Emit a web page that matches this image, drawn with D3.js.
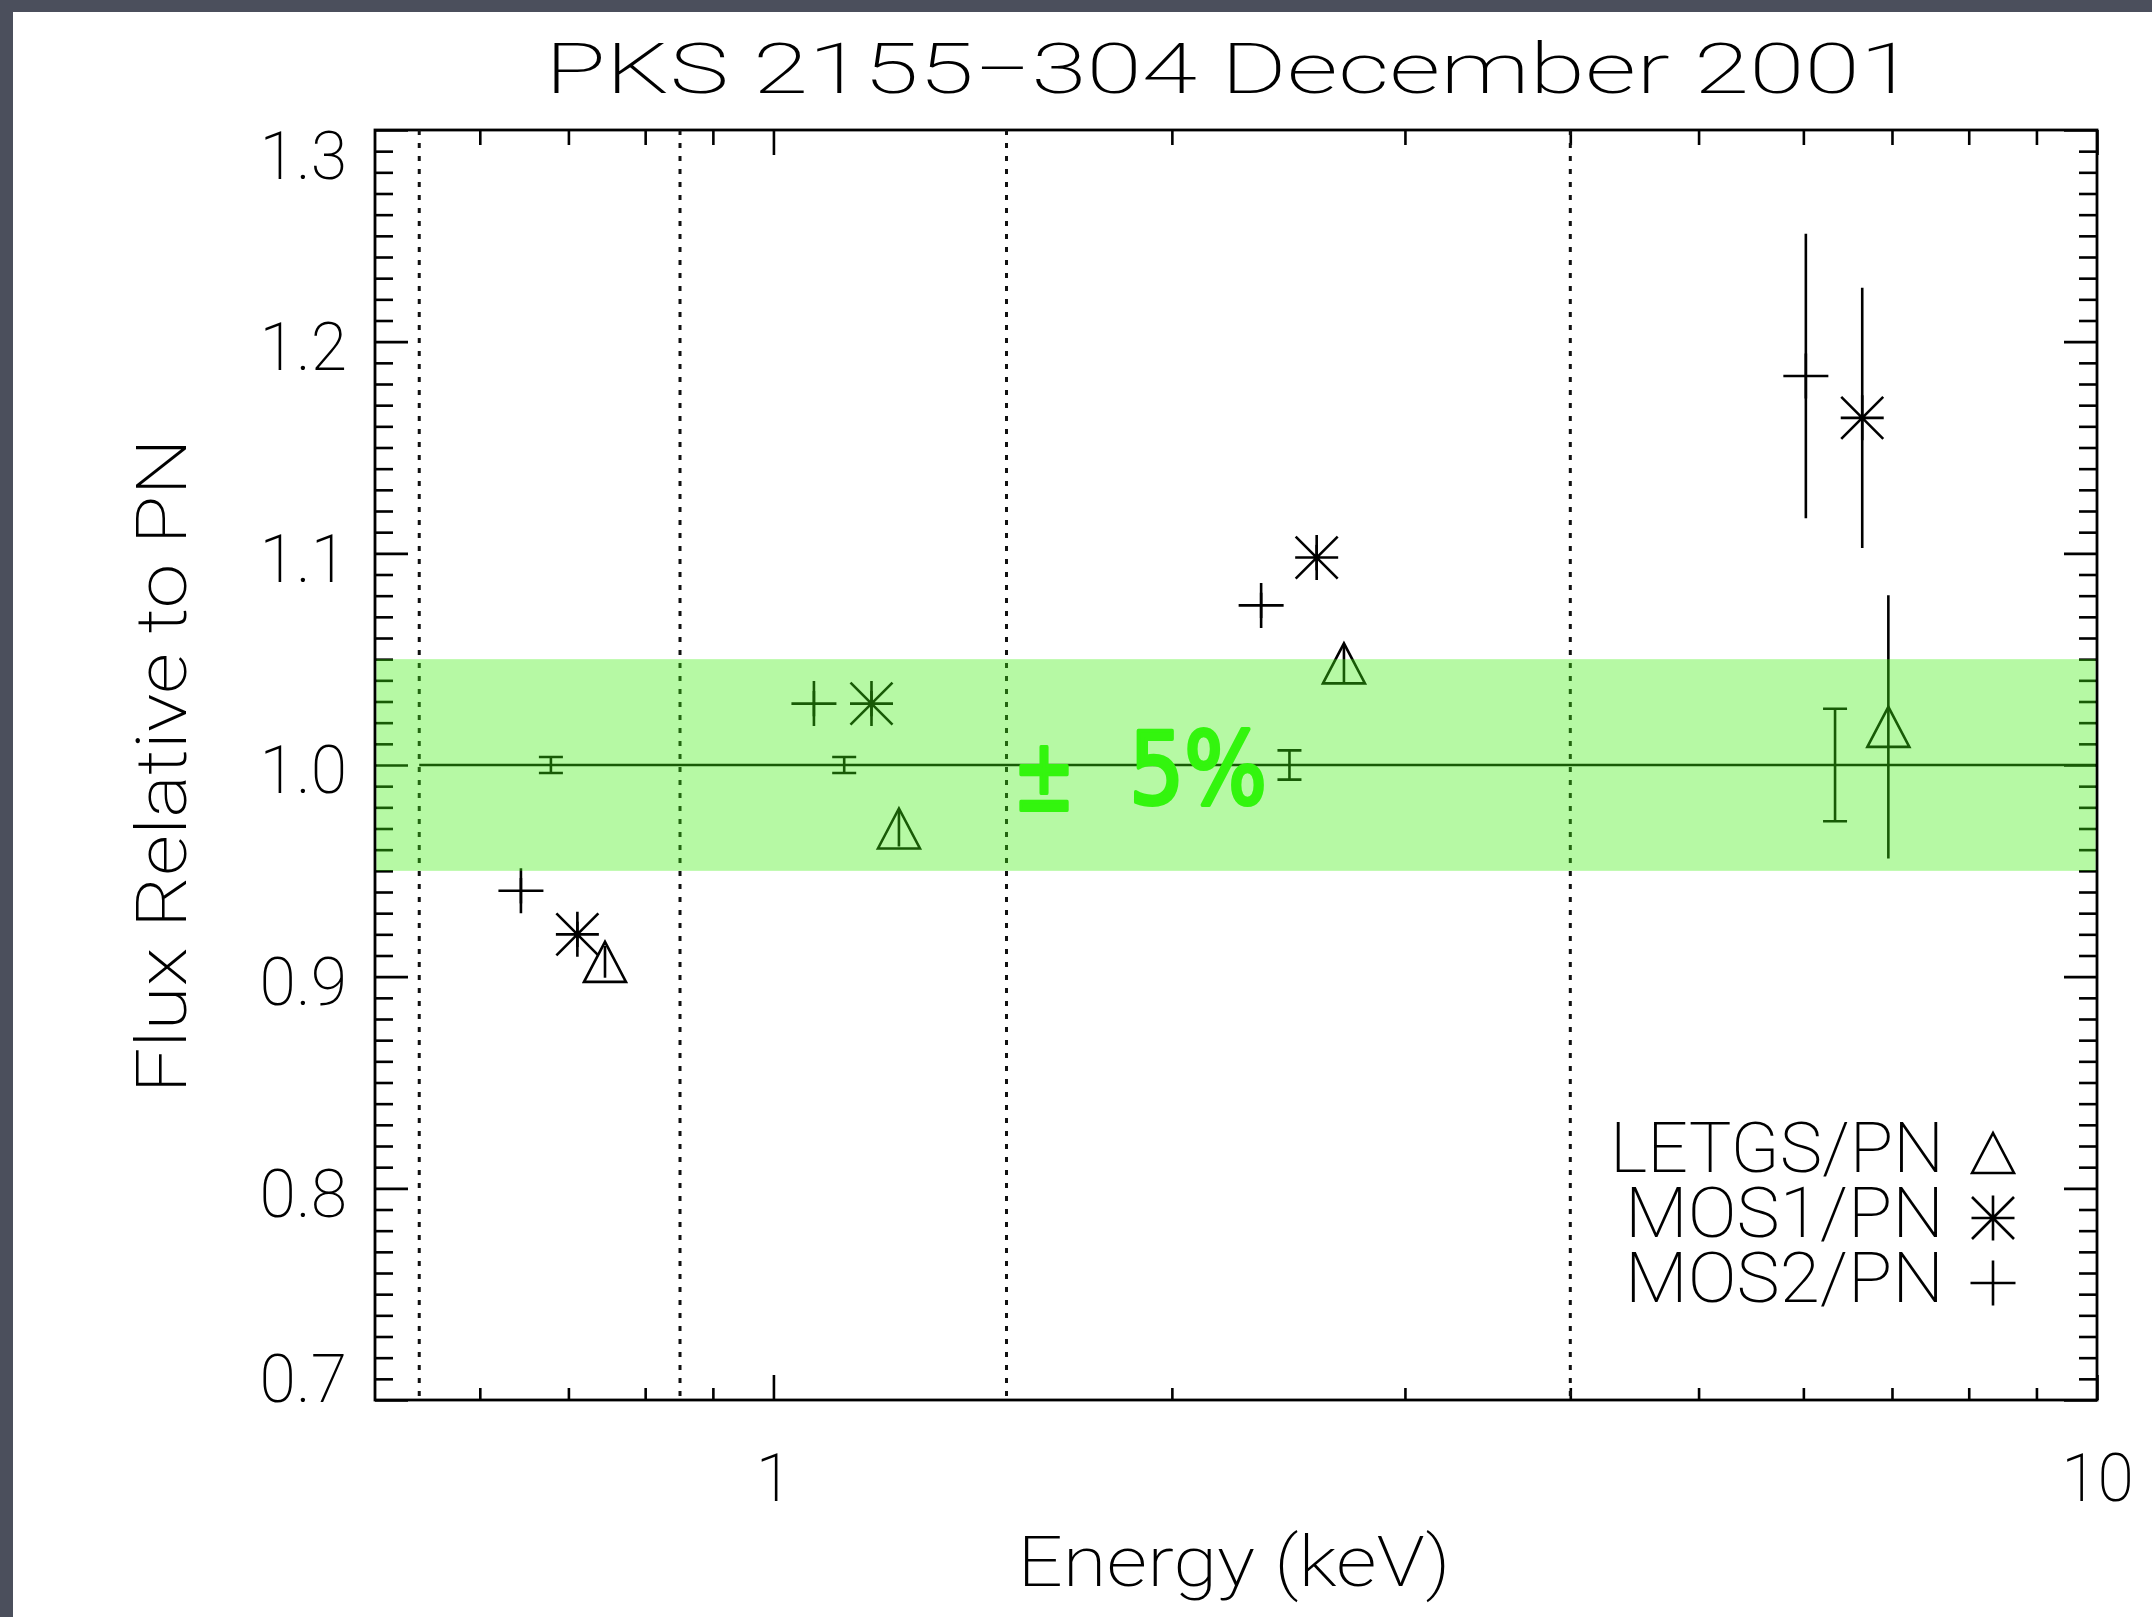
<!DOCTYPE html>
<html><head><meta charset="utf-8">
<script src="https://cdn.jsdelivr.net/npm/d3@7"></script>
<style>
html,body{margin:0;padding:0;background:#4b4f5c;}
svg{display:block;}
</style></head><body>
<svg id="chart" width="2152" height="1617"></svg>
<script>
// ---------- data ----------
const chartTitle = "PKS 2155\u2212304 December 2001";
const xAxisTitle = "Energy (keV)";
const yAxisTitle = "Flux Relative to PN";
const bandLabelSign = "\u00b1";
const bandLabelValue = "5%";

const bandEdges = [0.54, 0.85, 1.5, 4.0];          // dotted vertical lines (keV)
const xMajorTicks = [1, 10];
const xMajorLabels = ["1", "10"];
const xMinorTicks = [0.6, 0.7, 0.8, 0.9, 2, 3, 4, 5, 6, 7, 8, 9];
const yMajorTicks = [0.7, 0.8, 0.9, 1.0, 1.1, 1.2, 1.3];
const yMajorLabels = ["0.7", "0.8", "0.9", "1.0", "1.1", "1.2", "1.3"];
const toleranceBand = [0.95, 1.05];

const letgsEnergy = [0.746, 1.244, 2.698, 6.956];
const letgsRatio  = [0.907, 0.970, 1.048, 1.018];
const letgsError  = [0.0075, 0.0085, 0.0088, 0.0622];

const mos1Energy = [0.711, 1.186, 2.573, 6.647];
const mos1Ratio  = [0.920, 1.029, 1.098, 1.164];
const mos1Error  = [0.006, 0.006, 0.006, 0.0615];

const mos2Energy = [0.6445, 1.073, 2.336, 6.026];
const mos2Ratio  = [0.9406, 1.029, 1.0754, 1.1838];
const mos2Error  = [0.006, 0.006, 0.006, 0.0672];

const pnEnergy = [0.679, 1.131, 2.454, 6.34];
const pnRatio  = [1.0, 1.0, 1.0, 1.0];
const pnError  = [0.0038, 0.0038, 0.0069, 0.0266];

const legendLabels = ["LETGS/PN", "MOS1/PN", "MOS2/PN"];
const legendSymbols = ["triangle", "star", "plus"];

// ---------- layout ----------
const W = 2152, H = 1617;
const L = 375, R = 2097, T = 130, B = 1400;
const FONT = "Roboto, 'DejaVu Sans', sans-serif";
const FW = 200;

const svg = d3.select("#chart");
svg.append("rect").attr("x", 0).attr("y", 0).attr("width", W).attr("height", H).attr("fill", "#4b4f5c");
svg.append("rect").attr("x", 13).attr("y", 12).attr("width", W - 13).attr("height", H - 12).attr("fill", "#ffffff");

const x = d3.scaleLog().domain([0.5, 10]).range([L, R]);
const y = d3.scaleLinear().domain([0.7, 1.3]).range([B, T]);

const g = svg.append("g");

function styleAxis(sel) {
  sel.select(".domain").remove();
  sel.selectAll(".tick line").attr("stroke", "#000").attr("stroke-width", 2.6);
  sel.selectAll(".tick text").attr("fill", "#000").attr("font-family", FONT)
     .attr("font-weight", FW);
}

// x axes
const xb1 = g.append("g").attr("transform", `translate(0,${B})`)
  .call(d3.axisBottom(x).tickValues(xMajorTicks).tickFormat((d, i) => xMajorLabels[i])
        .tickSizeInner(-25).tickSizeOuter(0).tickPadding(54));
styleAxis(xb1);
xb1.selectAll(".tick text").attr("font-size", 66);
const xb2 = g.append("g").attr("transform", `translate(0,${B})`)
  .call(d3.axisBottom(x).tickValues(xMinorTicks).tickFormat("").tickSizeInner(-12).tickSizeOuter(0));
styleAxis(xb2);
const xt1 = g.append("g").attr("transform", `translate(0,${T})`)
  .call(d3.axisTop(x).tickValues(xMajorTicks).tickFormat("").tickSizeInner(-25).tickSizeOuter(0));
styleAxis(xt1);
const xt2 = g.append("g").attr("transform", `translate(0,${T})`)
  .call(d3.axisTop(x).tickValues(xMinorTicks).tickFormat("").tickSizeInner(-15).tickSizeOuter(0));
styleAxis(xt2);

// y axes
const yMinor = d3.range(71, 130).filter(v => v % 10 !== 0).map(v => v / 100);
const yl1 = g.append("g").attr("transform", `translate(${L},0)`)
  .call(d3.axisLeft(y).tickValues(yMajorTicks).tickFormat((d, i) => yMajorLabels[i])
        .tickSizeInner(-33).tickSizeOuter(0).tickPadding(28));
styleAxis(yl1);
yl1.selectAll(".tick text").attr("font-size", 66)
  .attr("dy", (d, i) => i === 0 ? "0.03em" : (i === yMajorTicks.length - 1 ? "0.73em" : "0.42em"));
const yl2 = g.append("g").attr("transform", `translate(${L},0)`)
  .call(d3.axisLeft(y).tickValues(yMinor).tickFormat("").tickSizeInner(-18).tickSizeOuter(0));
styleAxis(yl2);
const yr1 = g.append("g").attr("transform", `translate(${R},0)`)
  .call(d3.axisRight(y).tickValues(yMajorTicks).tickFormat("").tickSizeInner(-33).tickSizeOuter(0));
styleAxis(yr1);
const yr2 = g.append("g").attr("transform", `translate(${R},0)`)
  .call(d3.axisRight(y).tickValues(yMinor).tickFormat("").tickSizeInner(-18).tickSizeOuter(0));
styleAxis(yr2);

// frame
g.append("rect").attr("x", L).attr("y", T).attr("width", R - L).attr("height", B - T)
  .attr("fill", "none").attr("stroke", "#000").attr("stroke-width", 2.8);

// dotted band lines
g.selectAll("line.edge").data(bandEdges).enter().append("line")
  .attr("x1", d => x(d)).attr("x2", d => x(d)).attr("y1", T).attr("y2", B)
  .attr("stroke", "#111").attr("stroke-width", 3).attr("stroke-dasharray", "5,8");

// reference line at 1.0
g.append("line").attr("x1", x(bandEdges[0])).attr("x2", x(10)).attr("y1", y(1)).attr("y2", y(1))
  .attr("stroke", "#000").attr("stroke-width", 2.6);

// symbols
const symPath = {
  plus: (cx, cy) => `M${cx - 22.5},${cy}H${cx + 22.5}M${cx},${cy - 22.5}V${cy + 22.5}`,
  star: (cx, cy) => `M${cx - 21.5},${cy}H${cx + 21.5}M${cx},${cy - 22.5}V${cy + 22.5}` +
                    `M${cx - 21},${cy - 21}L${cx + 21},${cy + 21}M${cx - 21},${cy + 21}L${cx + 21},${cy - 21}`,
  triangle: (cx, cy) => `M${cx - 21},${cy + 20}L${cx},${cy - 20}L${cx + 21},${cy + 20}Z`
};

function drawSeries(E, V, Err, sym, caps) {
  const data = E.map((e, i) => ({ e, v: V[i], err: Err[i] }));
  const sg = g.append("g");
  sg.selectAll("line.err").data(data).enter().append("line")
    .attr("x1", d => x(d.e)).attr("x2", d => x(d.e))
    .attr("y1", d => y(d.v - d.err)).attr("y2", d => y(d.v + d.err))
    .attr("stroke", "#000").attr("stroke-width", 2.6);
  if (caps) {
    sg.selectAll("path.cap").data(data).enter().append("path")
      .attr("d", d => `M${x(d.e) - 12},${y(d.v - d.err)}H${x(d.e) + 12}M${x(d.e) - 12},${y(d.v + d.err)}H${x(d.e) + 12}`)
      .attr("stroke", "#000").attr("stroke-width", 2.6).attr("fill", "none");
  }
  if (sym) {
    sg.selectAll("path.sym").data(data).enter().append("path")
      .attr("d", d => symPath[sym](x(d.e), y(d.v)))
      .attr("stroke", "#000").attr("stroke-width", 2.6).attr("fill", "none")
      .attr("stroke-linejoin", "miter");
  }
}
drawSeries(pnEnergy, pnRatio, pnError, null, true);
drawSeries(mos2Energy, mos2Ratio, mos2Error, "plus", false);
drawSeries(mos1Energy, mos1Ratio, mos1Error, "star", false);
drawSeries(letgsEnergy, letgsRatio, letgsError, "triangle", false);

// legend (one text block, one line per series)
const legendX = 1944, symX = 1993;
const legendBase = [1172, 1237, 1302];
const legendWidths = [334, 319, 319];
const legText = g.append("text").attr("text-anchor", "end")
  .attr("font-family", FONT).attr("font-weight", FW).attr("font-size", 70).attr("fill", "#000");
legendLabels.forEach((lab, i) => {
  legText.append("tspan").attr("x", legendX).attr("y", legendBase[i])
    .attr("textLength", legendWidths[i]).attr("lengthAdjust", "spacingAndGlyphs").text(lab);
  g.append("path").attr("d", symPath[legendSymbols[i]](symX, legendBase[i] - 19))
    .attr("stroke", "#000").attr("stroke-width", 2.6).attr("fill", "none");
});

// tolerance band overlay
g.append("rect").attr("x", L + 1.5).attr("width", R - L - 3)
  .attr("y", y(toleranceBand[1])).attr("height", y(toleranceBand[0]) - y(toleranceBand[1]))
  .attr("fill", "rgb(63,239,16)").attr("fill-opacity", 0.38);

// band label
const GREEN = "#33f50e";
g.append("text").attr("x", 1013).attr("y", 810)
  .attr("font-family", "'DejaVu Sans', sans-serif").attr("font-size", 100)
  .attr("fill", GREEN).attr("stroke", GREEN).attr("stroke-width", 4)
  .attr("stroke-linejoin", "round").attr("stroke-linecap", "round")
  .attr("textLength", 62).attr("lengthAdjust", "spacingAndGlyphs").text(bandLabelSign);
g.append("text").attr("x", 1129).attr("y", 804)
  .attr("font-family", "'DejaVu Sans', sans-serif").attr("font-size", 100)
  .attr("fill", GREEN).attr("stroke", GREEN).attr("stroke-width", 4)
  .attr("stroke-linejoin", "round").attr("stroke-linecap", "round")
  .attr("textLength", 138).attr("lengthAdjust", "spacingAndGlyphs").text(bandLabelValue);

// titles
svg.append("text").attr("x", 1230).attr("y", 93).attr("text-anchor", "middle")
  .attr("font-family", FONT).attr("font-weight", FW).attr("font-size", 70).attr("fill", "#000")
  .attr("textLength", 1370).attr("lengthAdjust", "spacingAndGlyphs")
  .text(chartTitle);
svg.append("text").attr("x", 1234).attr("y", 1586).attr("text-anchor", "middle")
  .attr("font-family", FONT).attr("font-weight", FW).attr("font-size", 70).attr("fill", "#000")
  .attr("textLength", 433).attr("lengthAdjust", "spacingAndGlyphs")
  .text(xAxisTitle);
svg.append("text").attr("transform", "translate(186,766) rotate(-90)").attr("text-anchor", "middle")
  .attr("font-family", FONT).attr("font-weight", FW).attr("font-size", 70).attr("fill", "#000")
  .attr("textLength", 655).attr("lengthAdjust", "spacingAndGlyphs")
  .text(yAxisTitle);
</script>
</body></html>
